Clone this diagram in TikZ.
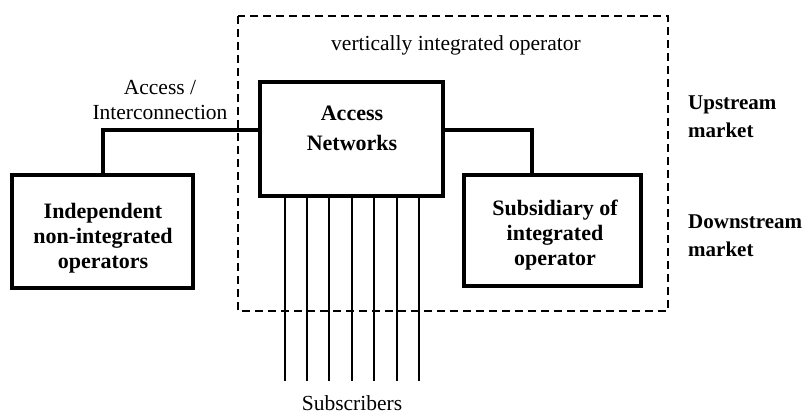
\documentclass[tikz,border=0pt]{standalone}
\usepackage{fontspec}
\setmainfont{Liberation Serif}
\begin{document}
\begin{tikzpicture}[x=1pt,y=-1pt,
  txt/.style={font=\fontsize{21.5}{25}\selectfont, inner sep=0pt, align=center},
  boldtxt/.style={font=\fontsize{22}{25}\selectfont\bfseries, inner sep=0pt, align=center},
  mkt/.style={font=\fontsize{21}{28}\selectfont\bfseries, inner sep=0pt, align=left, anchor=west},
  opbox/.style={draw, line width=4.5pt, rectangle, inner sep=0pt},
  conn/.style={line width=4pt},
  sub/.style={line width=1.4pt},
  region/.style={draw, line width=1.4pt, dash pattern=on 8pt off 5pt}]
\useasboundingbox (0,0) rectangle (808,414);

% the vertically integrated operator
\draw[region] (238,16) rectangle (668,311);
\node[txt] (vio) at (456,45) {vertically integrated operator};

% operator boxes
\node[opbox, minimum width=183pt, minimum height=114pt] (acc) at (351.5,139) {};
\node[boldtxt, font=\fontsize{22}{30}\selectfont\bfseries] (acct) at (352,128) {Access\\Networks};

\node[opbox, minimum width=181pt, minimum height=113pt] (ind) at (102.5,231.5) {};
\node[boldtxt] (indt) at (103,238) {Independent\\non-integrated\\operators};

\node[opbox, minimum width=177pt, minimum height=111pt] (sbs) at (552.5,230.5) {};
\node[boldtxt] (sbst) at (555,235) {Subsidiary of\\integrated\\operator};

% links to the access networks
\draw[conn] (acc.west |- 0,130) -| (ind.north);
\draw[conn] (acc.east |- 0,130) -| ([xshift=-20.5pt]sbs.north);
\node[txt] (ic) at (160,100) {Access /\\Interconnection};

% subscriber lines
\foreach \i/\x in {1/285,2/307,3/329,4/352,5/374,6/397,7/419} {
  \coordinate (s\i) at (\x,381);
  \draw[sub] (acc.south -| s\i) -- (s\i);
}
\node[txt] (subs) at (352,403) {Subscribers};

% market levels
\node[mkt] (up) at (688,117) {Upstream\\market};
\node[mkt] (down) at (688,236) {Downstream\\market};
\end{tikzpicture}
\end{document}
